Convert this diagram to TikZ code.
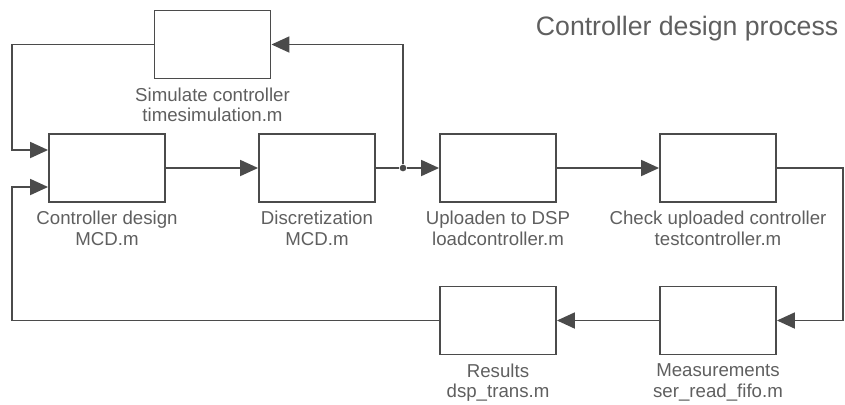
\documentclass[tikz,border=0pt]{standalone}
\usepackage{fontspec}
\setmainfont{Liberation Sans}
\usetikzlibrary{positioning,arrows.meta,calc}
\definecolor{linegray}{RGB}{75,75,75}
\definecolor{textgray}{RGB}{95,95,95}

\begin{document}
\begin{tikzpicture}[
    x=0.75pt, y=-0.75pt,
    >={Triangle[length=13.5pt,width=12pt]},
    block/.style={draw=linegray, rectangle, minimum height=51pt, minimum width=87pt, line width=1.4pt},
    caption/.style={text=textgray, align=center, inner sep=0pt, font=\fontsize{14}{15.5}\selectfont},
    connector/.style={->, draw=linegray, line width=1.4pt},
    line/.style={draw=linegray, line width=1.4pt},
    point/.style={fill=linegray, circle, minimum size=5pt, inner sep=0pt}
]
    \useasboundingbox (0,0) rectangle (845,404);

    \node [text=textgray, anchor=base east, font=\fontsize{20}{24}\selectfont] (title) at (843,35) {Controller design process};

    % upper row
    \node [block] (design) at (107,168) {};
    \node [block] (disc) at (317,168) {};
    \node [block] (upload) at (498,168) {};
    \node [block] (check) at (718,168) {};
    \node [block] (sim) at (212.5,44.5) {};

    % lower row
    \node [block] (meas) at (718,320.5) {};
    \node [block] (results) at (498,320.5) {};

    \node [caption, below=6pt of sim] (simtxt) {Simulate controller\\timesimulation.m};
    \node [caption, below=6pt of design] (designtxt) {Controller design\\MCD.m};
    \node [caption, below=6pt of disc] (disctxt) {Discretization\\MCD.m};
    \node [caption, below=6pt of upload] (uploadtxt) {Uploaden to DSP\\loadcontroller.m};
    \node [caption, below=6pt of check] (checktxt) {Check uploaded controller\\testcontroller.m};
    \node [caption, below=6pt of results] (resultstxt) {Results\\dsp\_trans.m};
    \node [caption, below=6pt of meas] (meastxt) {Measurements\\ser\_read\_fifo.m};

    \coordinate (loop_l) at (12,0);
    \coordinate (loop_r) at (843,0);
    \coordinate (d_in1) at ($(design.west)+(0,-18)$);
    \coordinate (d_in2) at ($(design.west)+(0,19)$);
    \node [point] (split) at (403,168) {};

    \draw [connector] (sim.west) -- (sim.west -| loop_l) |- (d_in1);
    \draw [connector] (results.west) -- (results.west -| loop_l) |- (d_in2);
    \draw [connector] (design.east) -- (disc.west);
    \draw [line] (disc.east) -- (split);
    \draw [connector] (split) -- (upload.west);
    \draw [connector] (split) |- (sim.east);
    \draw [connector] (upload.east) -- (check.west);
    \draw [connector] (check.east) -| (loop_r |- meas.east) -- (meas.east);
    \draw [connector] (meas.west) -- (results.east);

\end{tikzpicture}
\end{document}
